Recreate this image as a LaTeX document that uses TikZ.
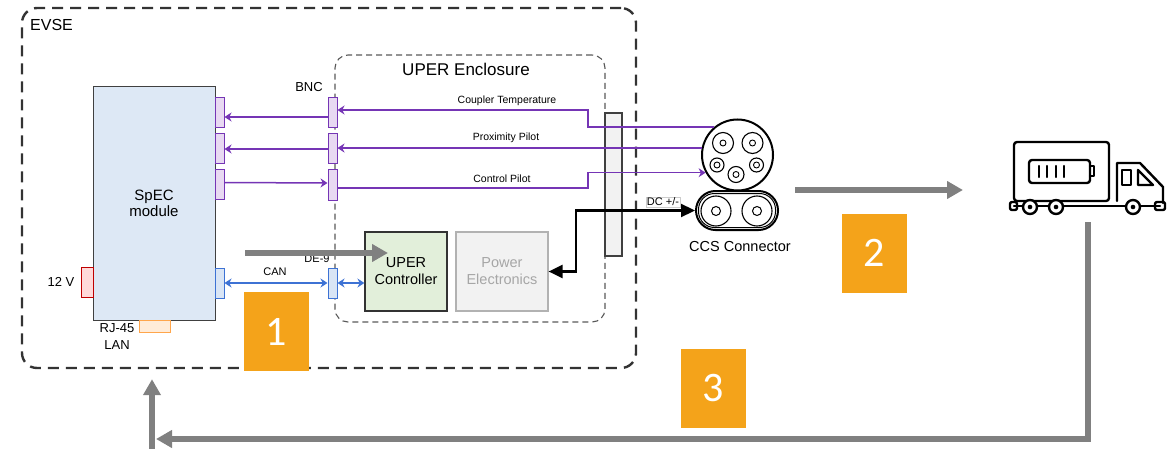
\documentclass[tikz,border=0pt]{standalone}
\usepackage{fontspec}
\setmainfont{Liberation Sans}
\newfontfamily\stepfont{Carlito}
\usetikzlibrary{positioning,arrows.meta}

\definecolor{evseline}{HTML}{333333}
\definecolor{specfill}{HTML}{DDE8F5}
\definecolor{sigpurple}{HTML}{7535B5}
\definecolor{sigfill}{HTML}{E8D9F2}
\definecolor{canblue}{HTML}{3D72D4}
\definecolor{canfill}{HTML}{D9E5F5}
\definecolor{ctrlfill}{HTML}{E2EFDA}
\definecolor{pefill}{HTML}{F2F2F2}
\definecolor{petext}{HTML}{A6A6A6}
\definecolor{flowgray}{HTML}{808080}
\definecolor{steporange}{HTML}{F4A31A}

\begin{document}
\begin{tikzpicture}[x=1pt, y=-1pt,
    every node/.style = {font=\fontsize{13}{15}\selectfont},
    port/.style = {draw, inner sep=0pt, line width=1pt,
                   minimum width=9pt, minimum height=30pt},
    bnc/.style = {port, draw=sigpurple, fill=sigfill},
    canport/.style = {port, draw=canblue, fill=canfill},
    sig/.style = {draw=sigpurple, line width=1.5pt,
                  -{Stealth[length=7pt,width=9pt]}},
    canlink/.style = {draw=canblue, line width=1.5pt,
                  {Stealth[length=7pt,width=9pt]}-{Stealth[length=7pt,width=9pt]}},
    dcline/.style = {draw=black, line width=2.2pt,
                  {Triangle[length=14pt,width=13pt]}-{Triangle[length=14pt,width=13pt]}},
    flow/.style = {draw=flowgray, line width=5.5pt,
                  -{Triangle[length=16pt,width=17pt]}},
    stepbox/.style = {fill=steporange, text=white, inner sep=0pt,
                  minimum width=65pt, minimum height=79pt,
                  font=\stepfont\fontsize{42}{42}\selectfont},
    tiny/.style = {inner sep=0pt, font=\fontsize{10.5}{12}\selectfont},
    txt/.style = {inner sep=0pt},
    truckline/.style = {line width=2.4pt, line join=round, line cap=round}
  ]
  \useasboundingbox (0,0) rectangle (1174,449);

  % enclosures
  \node[draw=evseline, line width=2.4pt, dash pattern=on 11pt off 7pt,
        rounded corners=15pt, minimum width=614pt, minimum height=360pt]
        (evse) at (329,188) {};
  \node[draw=black!65, line width=1.1pt, dash pattern=on 6pt off 4pt,
        rounded corners=13pt, minimum width=270pt, minimum height=267pt]
        (uper) at (470,188.5) {};
  \node[txt, font=\fontsize{16}{18}\selectfont, anchor=base west] (evsetitle) at (30,30.5) {EVSE};
  \node[txt, font=\fontsize{17}{19}\selectfont] (upertitle) at (466,69) {UPER Enclosure};

  % SpEC module and its ports
  \node[draw=black!75, fill=specfill, line width=1pt, align=center,
        minimum width=122pt, minimum height=233pt,
        font=\fontsize{15}{16.5}\selectfont] (spec) at (154,203.5) {SpEC\\module};
  \node[bnc] (specct) at (219.5,113) {};
  \node[bnc] (specpp) at (219.5,148.5) {};
  \node[bnc] (speccp) at (219.5,184.5) {};
  \node[canport] (speccan) at (219.5,283) {};
  \node[port, draw=red!75!black, fill=red!15, minimum width=12pt] (v12) at (87,282) {};
  \node[port, draw=orange!70, fill=orange!15, minimum width=31pt, minimum height=12pt] (rj45) at (154.5,326) {};
  \node[txt, left=6pt of v12] (v12lbl) {12 V};
  \node[txt, align=center, font=\fontsize{13}{17}\selectfont] (lanlbl) at (117,337) {RJ-45\\LAN};

  % BNC and DE-9 bulkhead ports
  \node[bnc] (bncct) at (332.5,113) {};
  \node[bnc] (bncpp) at (332.5,149) {};
  \node[bnc] (bnccp) at (332.5,185) {};
  \node[canport] (de9) at (332.5,283) {};
  \node[txt, font=\fontsize{13}{15}\selectfont] (bnclbl) at (309,87) {BNC};
  \node[tiny, font=\fontsize{11}{12}\selectfont] (de9lbl) at (317,259) {DE-9};

  % controller and power stage
  \node[draw=black!80, fill=ctrlfill, line width=1.2pt, align=center,
        minimum width=82pt, minimum height=79pt,
        font=\fontsize{14.5}{17}\selectfont] (ctrl) at (406,271.5) {UPER\\Controller};
  \node[draw=black!30, fill=pefill, line width=1.2pt, align=center, text=petext,
        minimum width=92pt, minimum height=79pt,
        font=\fontsize{14.5}{17}\selectfont] (power) at (502,271.5) {Power\\Electronics};

  % wall feed-through
  \node[draw=black!75, fill=pefill, line width=1.2pt,
        minimum width=17pt, minimum height=143pt] (bulk) at (613.5,184.5) {};

  % CCS connector
  \node[draw, circle, line width=2pt, minimum size=71pt, inner sep=0pt] (ccstop) at (737.5,155) {};
  \foreach \px/\py/\pr in {723/143/10.5, 752.5/143/10.5, 717/165/7, 756.5/165/7, 736/174.5/8}{
    \draw[line width=1.1pt] (\px,\py) circle[radius=\pr pt];
    \draw[line width=0.9pt] (\px,\py) circle[radius=3pt];
  }
  \node[draw, line width=2pt, rounded corners=19.5pt, minimum width=82pt,
        minimum height=39pt] (ccsdc) at (737,210.5) {};
  \draw[line width=1pt, rounded corners=16pt]
    ([shift={(3.5,3.5)}]ccsdc.north west) rectangle ([shift={(-3.5,-3.5)}]ccsdc.south east);
  \foreach \px in {716,757}{
    \draw[line width=1.1pt] (\px,211) circle[radius=15pt];
    \draw[line width=1pt] (\px,211) circle[radius=4.5pt];
  }
  \node[txt, font=\fontsize{14.5}{16}\selectfont] (ccslbl) at (740,247) {CCS Connector};

  % pilot and temperature signals
  \coordinate (ctbend) at (588,120);
  \coordinate (cpbend) at (588,180);
  \draw[sig] (ccstop.130) -| (ctbend) |- ([yshift=3pt]bncct.east);
  \draw[sig] (ccstop.169) -- (ccstop.169 -| bncpp.east);
  \draw[sig] ([yshift=-3pt]bnccp.east) -| (cpbend) |- (ccstop.209);
  \draw[sig] ([yshift=-4pt]bncct.west) -- ([yshift=-4pt]specct.east);
  \draw[sig] (bncpp.west) -- (bncpp.west -| specpp.east);
  \draw[sig] ([yshift=2pt]speccp.east) -- ([yshift=2pt]bnccp.west);
  \node[tiny] (ctlbl) at (507,101) {Coupler Temperature};
  \node[tiny] (pplbl) at (506,138) {Proximity Pilot};
  \node[tiny] (cplbl) at (502,179) {Control Pilot};

  % CAN bus
  \draw[canlink] (speccan.east) -- (de9.west);
  \draw[canlink] (de9.east) -- (de9.east -| ctrl.west);
  \node[tiny, font=\fontsize{11}{12}\selectfont] (canlbl) at (275,272) {CAN};

  % DC power path
  \coordinate (dcbend) at (576,240);
  \draw[dcline] (power.east) -| (dcbend) |- (ccsdc.west);
  \node[draw=black!20, fill=white, inner sep=1pt, font=\fontsize{11}{12}\selectfont] (dclbl) at (663,202) {DC +/-};

  % electric truck
  \node[minimum width=156pt, minimum height=76pt, inner sep=0pt] (truck) at (1088,178) {};
  \draw[truckline, rounded corners=3pt] (1014,142) rectangle (1109,201);
  \draw[truckline, rounded corners=3pt] (1029,160) rectangle (1090,183);
  \draw[truckline] (1090,166) -- (1094,166) -- (1094,176) -- (1090,176);
  \foreach \bx in {1039,1047,1056,1064}
    \draw[truckline] (\bx,166) -- (\bx,177);
  \draw[truckline] (1117,201) -- (1117,163) -- (1140,163) -- (1163,187) -- (1163,203);
  \draw[truckline] (1122,170) rectangle (1131,185);
  \draw[truckline] (1138,170) -- (1138,185) -- (1153,185) -- cycle;
  \draw[truckline] (1014,206) -- (1160,206);
  \draw[truckline, rounded corners=2pt] (1010,202) rectangle (1017,210);
  \draw[truckline, rounded corners=2pt] (1155,202) rectangle (1165,210);
  \foreach \wx in {1030,1056,1133}{
    \draw[truckline, fill=white] (\wx,207) circle[radius=7pt];
    \fill (\wx,207) circle[radius=2.3pt];
  }

  % process flow
  \coordinate (cfga) at (245,253);
  \coordinate (cfgb) at (388,253);
  \coordinate (pluga) at (795,190);
  \coordinate (plugb) at (963,190);
  \coordinate (retend) at (156,439);
  \coordinate (retup) at (152,449);
  \draw[flow] (cfga) -- (cfgb);
  \draw[flow] (pluga) -- (plugb);
  \draw[flow] ([yshift=-6pt]truck.south) |- (retend);
  \draw[flow] (retup) -- ([yshift=-10pt]evse.south -| retup);

  \node[stepbox] (step1) at (276.5,331.5) {1};
  \node[stepbox] (step2) at (874.5,253) {2};
  \node[stepbox] (step3) at (713.5,388.5) {3};
\end{tikzpicture}
\end{document}
